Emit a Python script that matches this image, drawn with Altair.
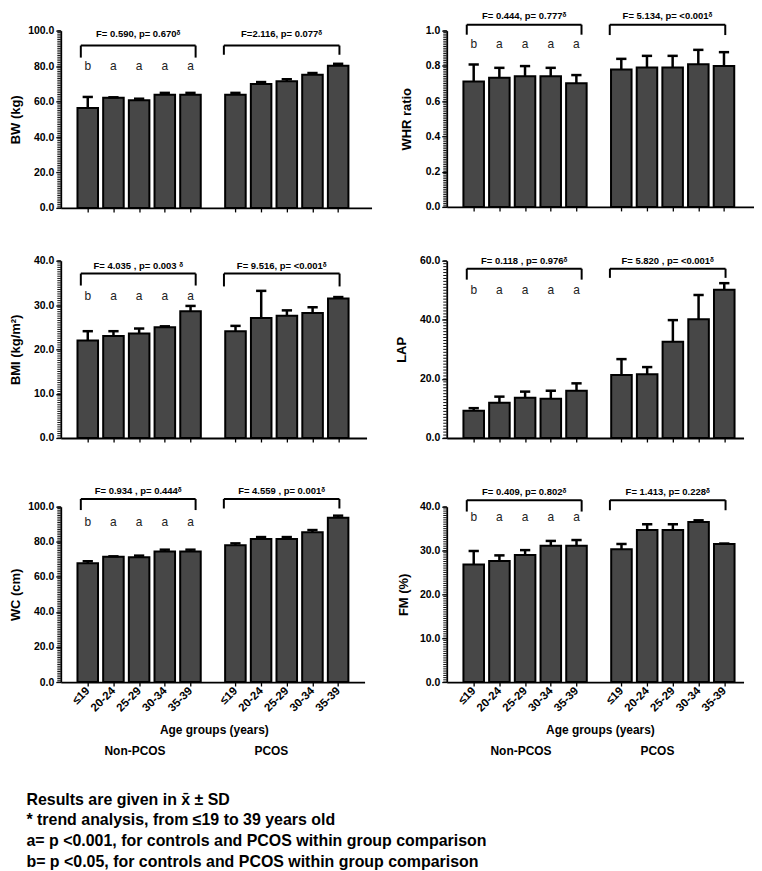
import altair as alt
import pandas as pd

FONT = "Liberation Sans, Arial, DejaVu Sans, sans-serif"
BAR_FILL = "#474747"

# ---------------- data ----------------
ages = ["≤19", "20-24", "25-29", "30-34", "35-39"]
groups = ["Non-PCOS", "PCOS"]
pos_non = [0, 1, 2, 3, 4]
pos_pcos = [5.75, 6.75, 7.75, 8.75, 9.75]
letters_non = ["b", "a", "a", "a", "a"]

bw_non_mean = [56.4, 62.1, 60.7, 63.9, 63.9]
bw_non_sd = [6.2, 0.3, 0.9, 1.0, 1.0]
bw_pcos_mean = [63.9, 69.9, 71.4, 75.1, 80.2]
bw_pcos_sd = [1.0, 1.1, 1.2, 1.0, 1.1]

whr_non_mean = [0.711, 0.733, 0.741, 0.741, 0.701]
whr_non_sd = [0.097, 0.056, 0.058, 0.048, 0.047]
whr_pcos_mean = [0.780, 0.791, 0.791, 0.810, 0.800]
whr_pcos_sd = [0.060, 0.066, 0.066, 0.081, 0.078]

bmi_non_mean = [22.0, 23.0, 23.6, 25.0, 28.6]
bmi_non_sd = [2.1, 1.1, 1.1, 0.2, 1.2]
bmi_pcos_mean = [24.1, 27.1, 27.6, 28.2, 31.5]
bmi_pcos_sd = [1.2, 6.1, 1.2, 1.3, 0.3]

lap_non_mean = [9.2, 11.9, 13.6, 13.3, 16.0]
lap_non_sd = [0.9, 2.1, 2.1, 2.7, 2.5]
lap_pcos_mean = [21.3, 21.6, 32.6, 40.2, 50.2]
lap_pcos_sd = [5.4, 2.4, 7.3, 8.2, 2.2]

wc_non_mean = [67.7, 71.5, 71.2, 74.4, 74.4]
wc_non_sd = [1.2, 0.2, 0.9, 1.1, 1.1]
wc_pcos_mean = [78.0, 81.6, 81.6, 85.4, 93.7]
wc_pcos_sd = [1.1, 1.1, 1.1, 1.3, 1.2]

fm_non_mean = [26.8, 27.6, 29.0, 31.1, 31.1]
fm_non_sd = [3.1, 1.3, 1.1, 1.1, 1.3]
fm_pcos_mean = [30.3, 34.7, 34.7, 36.5, 31.5]
fm_pcos_sd = [1.2, 1.3, 1.3, 0.4, 0.1]

ftext_bw = ["F= 0.590, p= 0.670ᵟ", "F=2.116, p= 0.077ᵟ"]
ftext_whr = ["F= 0.444, p= 0.777ᵟ", "F= 5.134, p= <0.001ᵟ"]
ftext_bmi = ["F= 4.035 , p= 0.003 ᵟ", "F= 9.516, p= <0.001ᵟ"]
ftext_lap = ["F= 0.118 , p= 0.976ᵟ", "F= 5.820 , p= <0.001ᵟ"]
ftext_wc = ["F= 0.934 , p= 0.444ᵟ", "F= 4.559 , p= 0.001ᵟ"]
ftext_fm = ["F= 0.409, p= 0.802ᵟ", "F= 1.413, p= 0.228ᵟ"]

# bracket: [line y, tick bottom non, tick bottom pcos, text y, letter y]
br_bw = [91.6, 84.8, 86.4, 98.0, 80.0]
br_whr = [1.034, 0.977, 0.975, 1.085, 0.925]
br_bmi = [37.1, 34.4, 34.2, 38.8, 32.0]
br_lap = [57.3, 53.6, 54.2, 60.0, 50.2]
br_wc = [104.4, 98.1, 99.0, 109.0, 91.0]
br_fm = [41.5, 38.9, 39.2, 43.4, 37.7]
bracket_x = [-0.27, 4.2, 5.3, 9.8]

footer = [
    "Results are given in x\u0304 \u00b1 SD",
    "* trend analysis, from \u226419 to 39 years old",
    "a= p <0.001, for controls and PCOS within group comparison",
    "b= p <0.05, for controls and PCOS within group comparison",
]
x_title = "Age groups (years)"
group_label_x = [1.84, 7.15]
x_title_pos = 4.93


def make_panel(ytitle, ymax, major, minor, nm, ns, pm, ps, ftext, br,
               title_x, width, height, xmax, bottom):
    df = pd.DataFrame({
        "pos": pos_non + pos_pcos,
        "mean": nm + pm,
        "sd": ns + ps,
        "group": [groups[0]] * 5 + [groups[1]] * 5,
        "age": ages * 2,
    })
    nmaj = int(round(ymax / major))
    major_ticks = [round(i * major, 6) for i in range(nmaj + 1)]
    nmin = int(round(ymax / minor))
    minor_ticks = [round(i * minor, 6) for i in range(nmin + 1)]
    yaxis = alt.Axis(
        title=ytitle, values=major_ticks, format=".1f",
        tickSize=5, labelOverlap=False, grid=False, labelFontSize=10.5,
        labelPadding=2, titleFontSize=13, titleX=title_x, titleY=height / 2,
        titleBaseline="middle", titleAlign="center", titleAngle=270,
    )
    lab_expr = "[" + ",".join(f"'{a}'" for a in ages) + \
        "][round(datum.value < 5 ? datum.value : datum.value - 5.75)]"
    xaxis = alt.Axis(
        title=None, values=pos_non + pos_pcos, labels=bottom,
        labelExpr=lab_expr, labelAngle=315, labelFontSize=11.5,
        labelAlign="right", labelBaseline="middle", labelPadding=3,
        tickSize=4, grid=False, labelOverlap=False,
    )
    xs = alt.Scale(domain=[-1.05, xmax], nice=False, zero=False)
    ys = alt.Scale(domain=[0, ymax], nice=False, zero=True)

    def X(f):
        return alt.X(f, type="quantitative", scale=xs, axis=xaxis)

    def Y(f):
        return alt.Y(f, type="quantitative", scale=ys, axis=yaxis)

    base = alt.Chart(df).transform_calculate(
        lo="datum.pos - 0.4", hi="datum.pos + 0.4",
        clo="datum.pos - 0.2", chi="datum.pos + 0.2",
        top="datum.mean + datum.sd", zero="0",
    )
    bars = base.mark_bar(fill=BAR_FILL, stroke="black", strokeWidth=2).encode(
        x=X("lo"), x2="hi", y=Y("mean"), y2="zero:Q")
    stem = base.mark_rule(color="black", strokeWidth=2.5).encode(
        x=X("pos"), y=Y("mean"), y2="top:Q")
    cap = base.mark_rule(color="black", strokeWidth=2.5).encode(
        x=X("clo"), x2="chi:Q", y=Y("top"))

    mdf = pd.DataFrame({"v": minor_ticks})
    minor_rule = alt.Chart(mdf).mark_rule(color="#111111", strokeWidth=1).encode(
        y=Y("v"), x=alt.value(-3.5), x2=alt.value(0))

    hdf = pd.DataFrame({"xl": [bracket_x[0], bracket_x[2]],
                        "xr": [bracket_x[1], bracket_x[3]],
                        "y": [br[0], br[0]]})
    vdf = pd.DataFrame({"x": bracket_x, "y1": [br[0]] * 4,
                        "y2": [br[1], br[1], br[2], br[2]]})
    hline = alt.Chart(hdf).mark_rule(color="black", strokeWidth=2).encode(
        x=X("xl"), x2="xr:Q", y=Y("y"))
    vline = alt.Chart(vdf).mark_rule(color="black", strokeWidth=2).encode(
        x=X("x"), y=Y("y1"), y2="y2:Q")
    tdf = pd.DataFrame({"x": [(bracket_x[0] + bracket_x[1]) / 2,
                              (bracket_x[2] + bracket_x[3]) / 2],
                        "y": [br[3], br[3]], "t": ftext})
    ftxt = alt.Chart(tdf).mark_text(font=FONT, fontSize=9.5, fontWeight="bold",
                                     color="black", baseline="middle").encode(
        x=X("x"), y=Y("y"), text="t:N")
    ldf = pd.DataFrame({"x": pos_non, "y": [br[4]] * 5, "t": letters_non})
    lets = alt.Chart(ldf).mark_text(font=FONT, fontSize=12, color="#222222",
                                     baseline="middle").encode(
        x=X("x"), y=Y("y"), text="t:N")
    layers = [bars, stem, cap, minor_rule, hline, vline, ftxt, lets]
    if bottom:
        gdf = pd.DataFrame({"x": group_label_x, "t": groups})
        glab = alt.Chart(gdf).mark_text(font=FONT, fontSize=12, fontWeight="bold",
                                         color="black", baseline="middle").encode(
            x=X("x"), y=alt.value(height + 69), text="t:N")
        adf = pd.DataFrame({"x": [x_title_pos], "t": [x_title]})
        alab = alt.Chart(adf).mark_text(font=FONT, fontSize=12, fontWeight="bold",
                                         color="black", baseline="middle").encode(
            x=X("x"), y=alt.value(height + 48), text="t:N")
        layers += [alab, glab]
    return alt.layer(*layers).properties(width=width, height=height)


p_bw = make_panel("BW (kg)", 100, 20, 1, bw_non_mean, bw_non_sd, bw_pcos_mean, bw_pcos_sd,
                  ftext_bw, br_bw, -45.5, 312, 178, 11.05, False)
p_whr = make_panel("WHR ratio", 1.0, 0.2, 0.01, whr_non_mean, whr_non_sd, whr_pcos_mean, whr_pcos_sd,
                   ftext_whr, br_whr, -40, 308, 177, 10.9, False)
p_bmi = make_panel("BMI (kg/m²)", 40, 10, 0.5, bmi_non_mean, bmi_non_sd, bmi_pcos_mean, bmi_pcos_sd,
                   ftext_bmi, br_bmi, -45, 307, 178, 10.85, False)
p_lap = make_panel("LAP", 60, 20, 1, lap_non_mean, lap_non_sd, lap_pcos_mean, lap_pcos_sd,
                   ftext_lap, br_lap, -45, 298, 178, 10.5, False)
p_wc = make_panel("WC (cm)", 100, 20, 1, wc_non_mean, wc_non_sd, wc_pcos_mean, wc_pcos_sd,
                  ftext_wc, br_wc, -45.5, 305, 176, 10.78, True)
p_fm = make_panel("FM (%)", 40, 10, 0.5, fm_non_mean, fm_non_sd, fm_pcos_mean, fm_pcos_sd,
                  ftext_fm, br_fm, -43, 298, 176, 10.5, True)

chart = alt.concat(p_bw, p_whr, p_bmi, p_lap, p_wc, p_fm, columns=2).properties(
    spacing={"row": 42, "column": 24.5},
    align="each",
    bounds="full",
    padding={"left": 1, "top": 0, "right": 0, "bottom": 0},
    title=alt.TitleParams(
        text=footer, orient="bottom", anchor="start", font=FONT, fontSize=16,
        fontWeight="bold", color="black", lineHeight=21, offset=35, dx=17,
        baseline="top",
    ),
).configure_view(stroke=None).configure_axis(
    domainColor="black", tickColor="black", labelColor="black", titleColor="black",
    labelFont=FONT, titleFont=FONT, labelFontWeight="bold", titleFontWeight="bold",
    domainWidth=1.8, tickWidth=1.3,
)

chart.save("out.html", embed_options={"renderer": "svg", "actions": False})
